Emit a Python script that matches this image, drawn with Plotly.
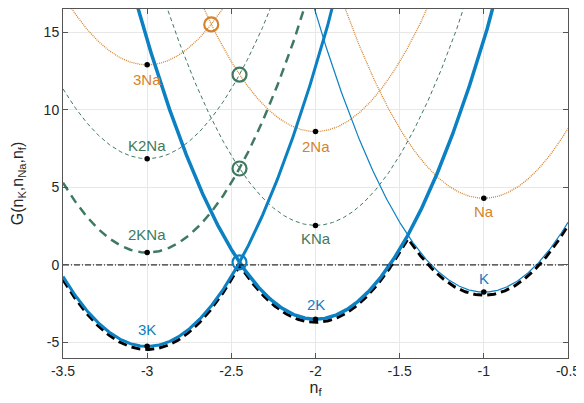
import numpy as np
import plotly.graph_objects as go

# parabola minima: centre n_f and G value at the minimum
species = ["3K", "2K", "K", "2KNa", "KNa", "K2Na", "3Na", "2Na", "Na"]
centres = [-3, -2, -1, -3, -2, -3, -3, -2, -1]
minima = [-5.25, -3.5, -1.75, 0.8, 2.55, 6.85, 12.9, 8.6, 4.3]
curvature = 18.0

x_ticks = [-3.5, -3, -2.5, -2, -1.5, -1, -0.5]
x_ticktext = ["-3.5", "-3", "-2.5", "-2", "-1.5", "-1", "-0.5"]
y_ticks = [-5, 0, 5, 10, 15]
y_ticktext = ["-5", "0", "5", "10", "15"]

# crossing points marked with circles
crossings = [("3K", "2K"), ("2KNa", "KNa"), ("K2Na", "2Na"), ("3Na", "2Na")]

BLUE = "#0B80C3"
GREEN = "#3E7A60"
ORANGE = "#D6832A"
FONT = "Liberation Sans, Arial, sans-serif"

styles = {
    "3K": dict(color=BLUE, width=3),
    "2K": dict(color=BLUE, width=3.5),
    "K": dict(color=BLUE, width=1.2),
    "2KNa": dict(color=GREEN, width=2.5, dash="9px,6px"),
    "KNa": dict(color=GREEN, width=1, dash="4px,3px"),
    "K2Na": dict(color=GREEN, width=1, dash="4px,3px"),
    "3Na": dict(color=ORANGE, width=1.3, dash="1px,1px"),
    "2Na": dict(color=ORANGE, width=1.3, dash="1px,1px"),
    "Na": dict(color=ORANGE, width=1.3, dash="1px,1px"),
}
label_shift = {"3K": 17, "2K": 15, "K": 14, "2KNa": 18, "KNa": -13,
               "K2Na": 13, "3Na": -15, "2Na": -15, "Na": -13}

xs = np.linspace(-3.5, -0.5, 601)


def g(name, x):
    i = species.index(name)
    return curvature * (x - centres[i]) ** 2 + minima[i]


fig = go.Figure()

# lower envelope of the pure K states, drawn a little below
envelope = np.minimum.reduce([g(s, xs) for s in ["3K", "2K", "K"]]) - 0.2
fig.add_trace(go.Scatter(x=xs, y=envelope, mode="lines",
                         line=dict(color="black", width=3, dash="9px,5px"),
                         showlegend=False, hoverinfo="skip"))

for s in ["3Na", "2Na", "Na", "K2Na", "KNa", "2KNa", "K", "2K", "3K"]:
    fig.add_trace(go.Scatter(x=xs, y=g(s, xs), mode="lines", line=styles[s],
                             showlegend=False, name=s))

fig.add_trace(go.Scatter(x=[-3.5, -0.5], y=[0, 0], mode="lines",
                         line=dict(color="black", width=1, dash="6px,2px,1px,2px"),
                         showlegend=False, hoverinfo="skip"))

fig.add_trace(go.Scatter(x=centres, y=minima, mode="markers",
                         marker=dict(color="black", size=5.5),
                         showlegend=False))

for a, b in crossings:
    ia, ib = species.index(a), species.index(b)
    xa, xb = centres[ia], centres[ib]
    xc = (xa + xb) / 2 + (minima[ib] - minima[ia]) / (2 * curvature * (xb - xa))
    col = styles[a]["color"]
    fig.add_trace(go.Scatter(x=[xc], y=[g(a, xc)], mode="markers",
                             marker=dict(symbol="circle-open", size=14, color=col,
                                         line=dict(width=2.2, color=col)),
                             showlegend=False))

for i, s in enumerate(species):
    fig.add_annotation(x=centres[i], y=minima[i], text=s, showarrow=False,
                       yshift=label_shift[s],
                       font=dict(family=FONT, size=15, color=styles[s]["color"]))

axis_common = dict(showline=True, linecolor="#555555", linewidth=1, mirror="ticks",
                   ticks="inside", ticklen=5, tickcolor="#555555",
                   showgrid=True, gridcolor="#e8e8e8", zeroline=False, automargin=False,
                   tickfont=dict(family=FONT, size=14, color="#262626"))

fig.update_xaxes(range=[-3.5, -0.5], tickvals=x_ticks, ticktext=x_ticktext,
                 title=dict(text="n<sub>f</sub>", font=dict(family=FONT, size=16, color="#262626"),
                            standoff=2),
                 **axis_common)
fig.update_yaxes(range=[-6, 16.5], tickvals=y_ticks, ticktext=y_ticktext,
                 title=dict(text="G(n<sub>K</sub>,n<sub>Na</sub>,n<sub>f</sub>)",
                            font=dict(family=FONT, size=16, color="#262626"), standoff=16),
                 **axis_common)

# page body adds an 8px margin, so the figure is 8px smaller than the window
fig.update_layout(width=576, height=395, margin=dict(l=55, r=16, t=1, b=45, autoexpand=False),
                  plot_bgcolor="white", paper_bgcolor="white",
                  font=dict(family=FONT))

fig.write_html("out.html")
